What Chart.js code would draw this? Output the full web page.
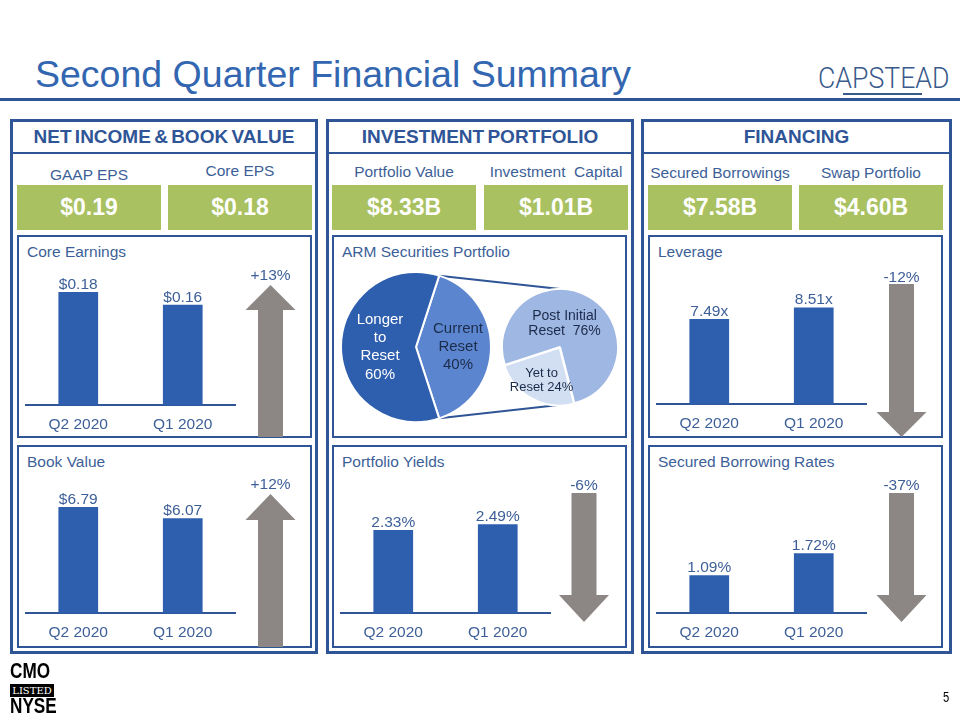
<!DOCTYPE html>
<html>
<head>
<meta charset="utf-8">
<title>Second Quarter Financial Summary</title>
<script src="https://cdn.jsdelivr.net/npm/chart.js@4.4.1/dist/chart.umd.min.js"></script>
<style>
  html, body { margin: 0; padding: 0; background: #fff; }
  body { width: 960px; height: 720px; position: relative; overflow: hidden; font-family: "Liberation Sans", Arial, sans-serif; }
  .a { position: absolute; box-sizing: border-box; white-space: pre; }
</style>
</head>
<body>
<script>
var FONT = '"Liberation Sans", Arial, sans-serif';
var NAVY = '#2F5597';
var TXT = '#3D5F98';
var BAR_BLUE = '#2E5EAE';
var GREEN = '#A9C161';
var ARROW = '#8C8784';

// data
var quarters = ['Q2 2020', 'Q1 2020'];
var coreEarnings = [0.18, 0.16];
var bookValue = [6.79, 6.07];
var leverage = [7.49, 8.51];
var portfolioYields = [2.33, 2.49];
var borrowingRates = [1.09, 1.72];
var changes = ['+13%', '+12%', '-12%', '-6%', '-37%'];

var metricNames = ['GAAP EPS', 'Core EPS', 'Portfolio Value', 'Investment  Capital', 'Secured Borrowings', 'Swap Portfolio'];
var metricValues = ['$0.19', '$0.18', '$8.33B', '$1.01B', '$7.58B', '$4.60B'];

var armLabels = ['Current\nReset', 'Longer\nto\nReset'];
var armValues = [40, 60];
var resetLabels = ['Post Initial\nReset ', 'Yet to\nReset'];
var resetValues = [76, 24];

// helpers
function el(tag, x, y, w, h, css) {
  var d = document.createElement(tag);
  d.className = 'a';
  d.style.left = x + 'px';
  d.style.top = y + 'px';
  if (w != null) d.style.width = w + 'px';
  if (h != null) d.style.height = h + 'px';
  Object.assign(d.style, css || {});
  document.body.appendChild(d);
  return d;
}
function text(str, x, cy, size, css, center) {
  var d = el('div', center ? x - 200 : x, cy - size / 2, center ? 400 : null, size,
    Object.assign({fontSize: size + 'px', lineHeight: size + 'px', color: TXT, textAlign: center ? 'center' : 'left'}, css || {}));
  d.textContent = str;
  return d;
}
function canvas(x, y, w, h) {
  var c = el('canvas', x, y, null, null);
  c.width = w; c.height = h;
  return c;
}

// title
text('Second Quarter Financial Summary', 35, 75, 37.5, {color: '#3366B0'});
el('div', 0, 98, 960, 3, {background: NAVY});
text('CAPSTEAD', 818, 78, 29, {color: '#3A5A8C', fontFamily: 'Roboto, sans-serif', fontWeight: '300', transform: 'scaleX(0.92)', transformOrigin: 'left center'});
el('div', 843, 93, 79, 2, {background: '#3A5A8C'});

// columns
var cols = [
  {x: 10, w: 308, title: 'NET INCOME & BOOK VALUE'},
  {x: 326, w: 308, title: 'INVESTMENT PORTFOLIO'},
  {x: 641, w: 311, title: 'FINANCING'}
];
cols.forEach(function (c) {
  el('div', c.x, 119, c.w, 535, {border: '3px solid ' + NAVY});
  el('div', c.x, 152, c.w, 2, {background: NAVY});
  text(c.title, c.x + c.w / 2, 136, 19, {fontWeight: 'bold', color: NAVY, wordSpacing: '-2px'}, true);
});

// key metric tiles
var tileX = [17, 168, 332, 484, 648, 799];
var nameY = [175, 171, 172, 172, 173, 173];
metricNames.forEach(function (n, i) {
  text(n, tileX[i] + 72, nameY[i], 15.5, null, true);
  var t = el('div', tileX[i], 185, 144, 45, {background: GREEN, color: '#fff', fontWeight: 'bold',
    fontSize: '23px', lineHeight: '45px', textAlign: 'center'});
  t.textContent = metricValues[i];
});

// inner panels
var panels = [
  {x: 17, y: 235, title: 'Core Earnings'},
  {x: 17, y: 445, title: 'Book Value'},
  {x: 332, y: 235, title: 'ARM Securities Portfolio'},
  {x: 332, y: 445, title: 'Portfolio Yields'},
  {x: 648, y: 235, title: 'Leverage'},
  {x: 648, y: 445, title: 'Secured Borrowing Rates'}
];
panels.forEach(function (p) {
  el('div', p.x, p.y, 295, 203, {border: '2px solid ' + NAVY});
  text(p.title, p.x + 10, p.y + 17, 15.5, null, false);
});

function makeValueLabels(fmt) {
  return {
    id: 'valueLabels',
    afterDatasetsDraw: function (chart) {
      var ctx = chart.ctx, data = chart.data.datasets[0].data;
      ctx.save();
      ctx.font = '15.5px ' + FONT;
      ctx.fillStyle = TXT;
      ctx.textAlign = 'center';
      ctx.textBaseline = 'alphabetic';
      chart.getDatasetMeta(0).data.forEach(function (bar, i) {
        ctx.fillText(fmt(data[i]), bar.x, bar.y - 3);
      });
      ctx.restore();
    }
  };
}

function barChart(p, values, fmt, yMax, padBottom) {
  var c = canvas(p.x + 2, p.y + 2, 291, 209);
  return new Chart(c, {
    type: 'bar',
    data: {
      labels: quarters,
      datasets: [{data: values, backgroundColor: BAR_BLUE, barPercentage: 0.38, categoryPercentage: 1}]
    },
    options: {
      responsive: false,
      animation: false,
      layout: {padding: {left: 7, right: 75, top: 33, bottom: padBottom}},
      plugins: {legend: {display: false}, tooltip: {enabled: false}},
      scales: {
        x: {
          grid: {display: false, drawTicks: false},
          border: {display: true, color: NAVY, width: 2},
          ticks: {color: TXT, padding: 10, font: {size: 15.5, family: FONT}}
        },
        y: {display: false, min: 0, max: yMax}
      }
    },
    plugins: [makeValueLabels(fmt)]
  });
}

barChart(panels[0], coreEarnings, function (v) { return '$' + v.toFixed(2); }, 0.215, 2);
barChart(panels[1], bookValue, function (v) { return '$' + v.toFixed(2); }, 8.52, 4);
barChart(panels[3], portfolioYields, function (v) { return v.toFixed(2) + '%'; }, 3.73, 4);
barChart(panels[4], leverage, function (v) { return v.toFixed(2) + 'x'; }, 11.8, 3);
barChart(panels[5], borrowingRates, function (v) { return v.toFixed(2) + '%'; }, 3.81, 4);

// change arrows
var svgNS = 'http://www.w3.org/2000/svg';
var svg = document.createElementNS(svgNS, 'svg');
svg.setAttribute('width', 960); svg.setAttribute('height', 720);
svg.setAttribute('class', 'a');
svg.style.left = '0px'; svg.style.top = '0px';
document.body.appendChild(svg);
var arrows = [
  {cx: 270.5, up: true, a: 285, b: 310, c: 437, ly: 275},
  {cx: 270.5, up: true, a: 494, b: 520, c: 647, ly: 484},
  {cx: 901.5, up: false, a: 284, b: 412, c: 437, ly: 277},
  {cx: 584, up: false, a: 493, b: 595, c: 622, ly: 485},
  {cx: 901.5, up: false, a: 493, b: 595, c: 622, ly: 485}
];
arrows.forEach(function (ar, i) {
  var x = ar.cx, pts;
  if (ar.up) {
    pts = [[x - 25, ar.b], [x, ar.a], [x + 25, ar.b], [x + 12.5, ar.b], [x + 12.5, ar.c], [x - 12.5, ar.c], [x - 12.5, ar.b]];
  } else {
    pts = [[x - 12.5, ar.a], [x + 12.5, ar.a], [x + 12.5, ar.b], [x + 25, ar.b], [x, ar.c], [x - 25, ar.b], [x - 12.5, ar.b]];
  }
  var poly = document.createElementNS(svgNS, 'polygon');
  poly.setAttribute('points', pts.map(function (q) { return q.join(','); }).join(' '));
  poly.setAttribute('fill', ARROW);
  svg.appendChild(poly);
  text(changes[i], x, ar.ly, 15.5, null, true);
});

// ARM pie of pie
var overlay = canvas(334, 237, 291, 199);

function makePieLabels(spec) {
  return {
    id: 'pieLabels',
    afterDatasetsDraw: function (chart) {
      var ctx = chart.ctx;
      ctx.save();
      ctx.textAlign = 'center';
      ctx.textBaseline = 'middle';
      chart.getDatasetMeta(0).data.forEach(function (arc, i) {
        var s = spec[i];
        var ang = s.angle != null ? (s.angle - 90) * Math.PI / 180 : (arc.startAngle + arc.endAngle) / 2;
        var r = arc.outerRadius * s.frac;
        var cx = arc.x + r * Math.cos(ang), cy = arc.y + r * Math.sin(ang);
        ctx.font = s.size + 'px ' + FONT;
        ctx.fillStyle = s.color;
        var n = s.lines.length;
        s.lines.forEach(function (ln, k) {
          ctx.fillText(ln, cx, cy + (k - (n - 1) / 2) * s.lh);
        });
      });
      ctx.restore();
    }
  };
}

var armLines = armLabels.map(function (l, i) { return l.split('\n').concat(armValues[i] + '%'); });
var resetLines = resetLabels.map(function (l, i) {
  var parts = l.split('\n');
  parts[parts.length - 1] += ' ' + resetValues[i] + '%';
  return parts;
});

var mainCanvas = canvas(338, 269, 156, 156);
var mainPie = new Chart(mainCanvas, {
  type: 'pie',
  data: {
    labels: armLabels,
    datasets: [{data: armValues, backgroundColor: ['#5B86CF', '#2E5EAE'], borderColor: '#fff', borderWidth: 2, hoverOffset: 0}]
  },
  options: {
    responsive: false, animation: false, rotation: 18, radius: 75,
    plugins: {legend: {display: false}, tooltip: {enabled: false}}
  },
  plugins: [makePieLabels([
    {lines: armLines[0], color: '#1C2B4A', size: 15, lh: 18.3, frac: 0.56},
    {lines: armLines[1], color: '#fff', size: 15, lh: 18.3, frac: 0.48}
  ])]
});

var resetCanvas = canvas(496, 283, 128, 128);
var resetPie = new Chart(resetCanvas, {
  type: 'pie',
  data: {
    labels: resetLabels,
    datasets: [{data: resetValues, backgroundColor: ['#9FB7E3', '#D2DEF2'], borderColor: '#fff', borderWidth: 2, hoverOffset: 0, offset: [0, 3]}]
  },
  options: {
    responsive: false, animation: false, rotation: -108, radius: 58,
    plugins: {legend: {display: false}, tooltip: {enabled: false}}
  },
  plugins: [makePieLabels([
    {lines: resetLines[0], color: '#1C2B4A', size: 14, lh: 15.7, frac: 0.41, angle: 11},
    {lines: resetLines[1], color: '#1C2B4A', size: 13, lh: 14, frac: 0.66}
  ])]
});

// connector lines between the split slice and the secondary pie
(function () {
  var ctx = overlay.getContext('2d');
  var ro = overlay.getBoundingClientRect();
  var r1 = mainCanvas.getBoundingClientRect(), r2 = resetCanvas.getBoundingClientRect();
  var a = mainPie.getDatasetMeta(0).data[0];
  var b = resetPie.getDatasetMeta(0).data;
  function pt(arc, ang, rect) {
    return [rect.left - ro.left + arc.x + arc.outerRadius * Math.cos(ang), rect.top - ro.top + arc.y + arc.outerRadius * Math.sin(ang)];
  }
  var segs = [
    [pt(a, a.startAngle, r1), pt(b[0], -Math.PI / 2, r2)],
    [pt(a, a.endAngle, r1), pt(b[1], b[1].startAngle, r2)]
  ];
  ctx.strokeStyle = NAVY;
  ctx.lineWidth = 2;
  segs.forEach(function (s) {
    ctx.beginPath();
    ctx.moveTo(s[0][0], s[0][1]);
    ctx.lineTo(s[1][0], s[1][1]);
    ctx.stroke();
  });
})();

// footer
var narrow = {color: '#000', fontWeight: 'bold', transform: 'scaleX(0.78)', transformOrigin: 'left center'};
text('CMO', 10, 671, 22, narrow);
var listed = el('div', 10, 684, 44, 13, {background: '#000', color: '#fff', fontFamily: '"DejaVu Serif", serif',
  fontSize: '10px', lineHeight: '13px', textAlign: 'center'});
listed.textContent = 'LISTED';
text('NYSE', 10, 706, 22, narrow);
text('5', 943, 697, 14, {color: '#000', transform: 'scaleX(0.8)', transformOrigin: 'left center'});
</script>
</body>
</html>
